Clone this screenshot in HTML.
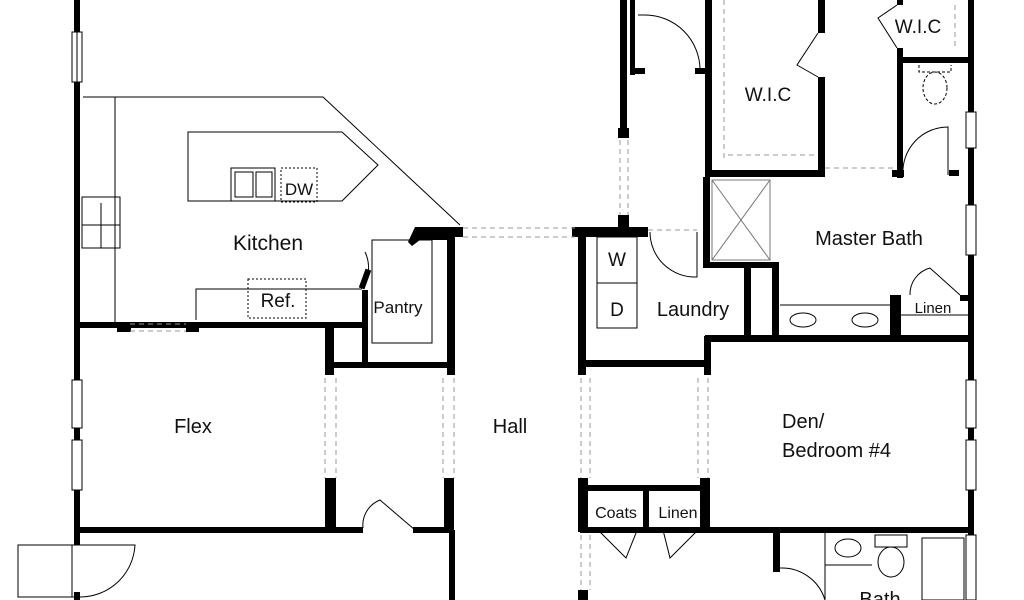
<!DOCTYPE html>
<html><head><meta charset="utf-8"><style>
html,body{margin:0;padding:0;background:#fff;}
svg{display:block}
text{font-family:"Liberation Sans",sans-serif;fill:#111}
</style></head><body>
<svg width="1024" height="600" viewBox="0 0 1024 600" xmlns="http://www.w3.org/2000/svg">
<g fill="#000">
<rect x="74" y="0" width="6" height="32"/>
<rect x="74" y="82" width="6" height="298"/>
<rect x="74" y="428" width="6" height="12"/>
<rect x="74" y="490" width="6" height="55"/>
<rect x="74" y="592" width="6" height="8"/>
<rect x="80" y="322" width="286" height="6"/>
<rect x="117" y="322" width="14" height="10"/>
<rect x="186" y="322" width="13" height="10"/>
<rect x="325" y="322" width="9" height="53"/>
<rect x="325" y="478" width="11" height="52"/>
<rect x="330" y="362" width="120" height="6"/>
<rect x="362" y="290" width="6" height="75"/>
<polygon points="415,227 463,227 463,237 455,237 455,240 420,240 412,246 408,242"/>
<rect x="447" y="232" width="8" height="143"/>
<rect x="444" y="478" width="10" height="52"/>
<rect x="449" y="530" width="6" height="70"/>
<rect x="362" y="269" width="6" height="20" transform="rotate(20 365 279)"/>
<rect x="80" y="527" width="283" height="6"/>
<rect x="413" y="527" width="40" height="6"/>
<rect x="620" y="0" width="7" height="130"/>
<rect x="618" y="128" width="11" height="10"/>
<rect x="618" y="215" width="11" height="13"/>
<rect x="630" y="0" width="5" height="75"/>
<rect x="630" y="68" width="15" height="6"/>
<rect x="695" y="68" width="12" height="6"/>
<rect x="572" y="227" width="76" height="10"/>
<rect x="578" y="227" width="8" height="148"/>
<rect x="578" y="360" width="132" height="7"/>
<rect x="704" y="336" width="7" height="39"/>
<rect x="704" y="336" width="46" height="6"/>
<rect x="700" y="478" width="10" height="52"/>
<rect x="578" y="478" width="10" height="54"/>
<rect x="578" y="485" width="130" height="6"/>
<rect x="643" y="485" width="6" height="45"/>
<rect x="580" y="527" width="392" height="6"/>
<rect x="578" y="590" width="10" height="10"/>
<rect x="705" y="0" width="7" height="177"/>
<rect x="705" y="170" width="120" height="7"/>
<rect x="818" y="0" width="7" height="33"/>
<rect x="818" y="77" width="7" height="100"/>
<rect x="703" y="177" width="7" height="91"/>
<rect x="703" y="262" width="75" height="6"/>
<rect x="744" y="262" width="7" height="78"/>
<rect x="772" y="262" width="7" height="80"/>
<rect x="705" y="335" width="268" height="7"/>
<rect x="897" y="0" width="6" height="5"/>
<rect x="897" y="48" width="6" height="130"/>
<rect x="897" y="57" width="76" height="6"/>
<rect x="892" y="170" width="12" height="7"/>
<rect x="949" y="170" width="10" height="6"/>
<rect x="890" y="295" width="11" height="45"/>
<rect x="960" y="295" width="13" height="6"/>
<rect x="968" y="0" width="6" height="112"/>
<rect x="968" y="148" width="6" height="57"/>
<rect x="968" y="255" width="6" height="125"/>
<rect x="968" y="428" width="6" height="12"/>
<rect x="968" y="490" width="6" height="45"/>
<rect x="773" y="530" width="7" height="42"/>
</g>
<g fill="none" stroke="#000" stroke-width="1">
<rect x="72" y="32" width="10" height="50"/><line x1="77" y1="32" x2="77" y2="82"/>
<rect x="72" y="380" width="10" height="48"/><rect x="72" y="440" width="10" height="50"/>
<rect x="966" y="112" width="10" height="36"/><rect x="966" y="205" width="10" height="50"/>
<rect x="966" y="380" width="10" height="48"/><rect x="966" y="440" width="10" height="50"/>
<rect x="966" y="535" width="10" height="65"/>
<polyline points="83,97 323,97 460,225"/>
<line x1="115" y1="97" x2="115" y2="322"/>
<polygon points="188,132 342,132 378,165 342,201 188,201"/>
<rect x="231" y="168" width="44" height="33"/><rect x="235" y="172" width="18" height="25"/><rect x="256" y="172" width="16" height="25"/>
<rect x="281" y="168" width="36" height="34" stroke-dasharray="2,2"/>
<rect x="82" y="197" width="38" height="51"/><line x1="101" y1="203" x2="101" y2="248"/><line x1="82" y1="225" x2="120" y2="225"/>
<polyline points="196,320 196,289 362,289"/>
<rect x="248" y="279" width="58" height="39" stroke-dasharray="2,2"/>
<rect x="372" y="240" width="60" height="103"/>
<path d="M365,252 Q370,262 368,275"/>
<g stroke="#999" stroke-dasharray="5,4">
<line x1="463" y1="228" x2="575" y2="228"/><line x1="463" y1="237" x2="575" y2="237"/>
<line x1="325" y1="378" x2="325" y2="478"/><line x1="336" y1="378" x2="336" y2="478"/>
<line x1="443" y1="378" x2="443" y2="478"/><line x1="454" y1="378" x2="454" y2="478"/>
<line x1="581" y1="378" x2="581" y2="478"/><line x1="590" y1="378" x2="590" y2="478"/>
<line x1="698" y1="378" x2="698" y2="478"/><line x1="708" y1="378" x2="708" y2="478"/>
<line x1="620" y1="140" x2="620" y2="215"/><line x1="628" y1="140" x2="628" y2="215"/>
<line x1="581" y1="535" x2="581" y2="590"/><line x1="590" y1="535" x2="590" y2="590"/>
<line x1="130" y1="324" x2="186" y2="324"/><line x1="130" y1="331" x2="186" y2="331"/>
<line x1="825" y1="168" x2="897" y2="168"/>
<line x1="724" y1="0" x2="724" y2="160"/><line x1="728" y1="155" x2="815" y2="155"/>
<line x1="955" y1="5" x2="955" y2="50"/>
<line x1="648" y1="230" x2="697" y2="230"/>
</g>
<path d="M645,15 A55,55 0 0 1 700,70"/><line x1="638" y1="15" x2="645" y2="15"/>
<polyline points="818,33 797,65 818,77"/>
<polyline points="897,5 878,18 897,48"/>
<path d="M903,175 A45,45 0 0 1 948,127 L948,175"/>
<path d="M650,232 A45,45 0 0 0 697,277 L697,232"/>
<path d="M910,295 A27,27 0 0 1 930,268 L960,295"/>
<path d="M363,528 A27,27 0 0 1 380,500 L415,530"/>
<path d="M598,530 L626,558 L638,528"/><path d="M663,530 L670,558 L698,530"/>
<path d="M18,545 L135,545 A55,55 0 0 1 80,597 L18,597 Z"/><line x1="72" y1="545" x2="72" y2="597"/>
<path d="M780,568 A45,45 0 0 1 825,600"/>
<rect x="712" y="180" width="58" height="80" stroke="#777"/><line x1="712" y1="180" x2="770" y2="260" stroke="#777"/><line x1="770" y1="180" x2="712" y2="260" stroke="#777"/>
<rect x="597" y="237" width="40" height="46"/><rect x="597" y="283" width="40" height="45"/>
<line x1="780" y1="305" x2="890" y2="305"/>
<ellipse cx="803" cy="320" rx="13" ry="7"/><ellipse cx="865" cy="320" rx="13" ry="7"/>
<g stroke-dasharray="3,2"><ellipse cx="935" cy="88" rx="12" ry="16"/><polyline points="919,65 919,72 951,72 951,65"/></g>
<line x1="901" y1="315" x2="968" y2="315"/>
<ellipse cx="848" cy="548" rx="13" ry="9"/><line x1="825" y1="565" x2="872" y2="565"/><line x1="825" y1="533" x2="825" y2="600"/>
<rect x="875" y="535" width="32" height="12"/><ellipse cx="891" cy="562" rx="13" ry="15"/>
<rect x="922" y="538" width="42" height="62"/>
</g>
<text x="268" y="250" font-size="21" text-anchor="middle">Kitchen</text>
<text x="278" y="307" font-size="19" text-anchor="middle">Ref.</text>
<text x="299" y="195" font-size="17" text-anchor="middle">DW</text>
<text x="398" y="313" font-size="17" text-anchor="middle">Pantry</text>
<text x="193" y="433" font-size="20" text-anchor="middle">Flex</text>
<text x="510" y="433" font-size="20" text-anchor="middle">Hall</text>
<text x="617" y="266" font-size="19" text-anchor="middle">W</text>
<text x="617" y="316" font-size="19" text-anchor="middle">D</text>
<text x="693" y="316" font-size="20" text-anchor="middle">Laundry</text>
<text x="768" y="101" font-size="19" text-anchor="middle">W.I.C</text>
<text x="918" y="33" font-size="19" text-anchor="middle">W.I.C</text>
<text x="869" y="245" font-size="20" text-anchor="middle">Master Bath</text>
<text x="933" y="313" font-size="15" text-anchor="middle">Linen</text>
<text x="782" y="428" font-size="20">Den/</text>
<text x="782" y="457" font-size="20">Bedroom #4</text>
<text x="616" y="518" font-size="16" text-anchor="middle">Coats</text>
<text x="678" y="518" font-size="16" text-anchor="middle">Linen</text>
<text x="880" y="606" font-size="20" text-anchor="middle">Bath</text>
</svg>
</body></html>
